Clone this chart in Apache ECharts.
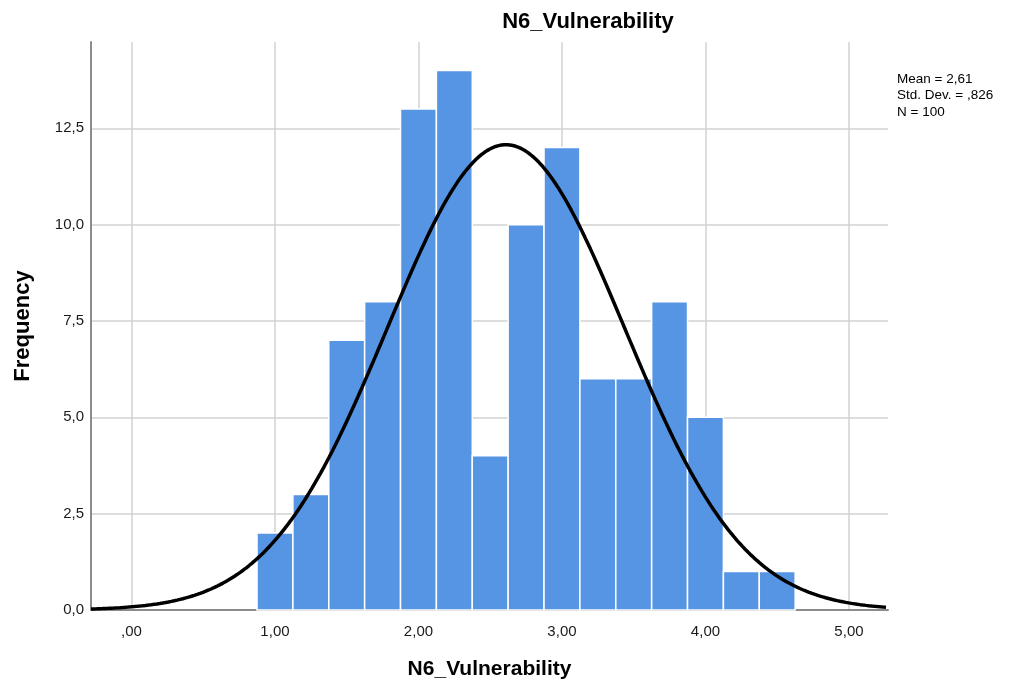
<!DOCTYPE html>
<html>
<head>
<meta charset="utf-8">
<script src="https://cdn.jsdelivr.net/npm/echarts@6/dist/echarts.min.js"></script>
<style>html,body{margin:0;padding:0;background:#fff}#c{width:1013px;height:686px}</style>
</head>
<body>
<div id="c"></div>
<script>
// Histogram bins (lower edge) and frequencies
const binStarts = [0.875, 1.125, 1.375, 1.625, 1.875, 2.125, 2.375, 2.625, 2.875, 3.125, 3.375, 3.625, 3.875, 4.125, 4.375];
const binWidth = 0.25;
const frequencies = [2, 3, 7, 8, 13, 14, 4, 10, 12, 6, 6, 8, 5, 1, 1];
// Displayed statistics (the fitted normal curve is defined by these)
const statMean = 2.61;
const statSD = 0.826;
const statN = 100;
const xTicks = [0, 1, 2, 3, 4, 5];
const yTicks = [0, 2.5, 5, 7.5, 10, 12.5];
const xMin = -0.282, xMax = 5.272, yMax = 14.74;

const barData = binStarts.map((s, i) => [s, s + binWidth, frequencies[i]]);
const curve = [];
for (let x = xMin; x <= xMax + 1e-9; x += 0.02) {
  const z = (x - statMean) / statSD;
  curve.push([x, statN * binWidth * Math.exp(-0.5 * z * z) / (statSD * Math.sqrt(2 * Math.PI))]);
}

const fmtX = v => { const s = Number(v).toFixed(2).replace('.', ','); return s.startsWith('0,') ? s.slice(1) : s; };
const fmtY = v => Number(v).toFixed(1).replace('.', ',');
const isTick = (arr, v) => arr.some(t => Math.abs(t - v) < 1e-6);

const chart = echarts.init(document.getElementById('c'), null, {renderer: 'canvas'});
const FONT = 'Liberation Sans, Arial, sans-serif';
chart.setOption({
  animation: false,
  textStyle: {fontFamily: FONT},
  title: [
    {text: 'N6_Vulnerability', left: 588, top: 11, textAlign: 'center', padding: 0,
     textStyle: {fontSize: 22, fontWeight: 'bold', color: '#000', fontFamily: FONT}},
    {text: 'Mean = 2,61\nStd. Dev. = ,826\nN = 100', left: 897, top: 71, padding: 0,
     textStyle: {fontSize: 13.5, fontWeight: 'normal', color: '#000', lineHeight: 16.5, fontFamily: FONT}}
  ],
  grid: {left: 91, right: 125, top: 42, bottom: 76, outerBoundsMode: 'none', containLabel: false},
  xAxis: {
    type: 'value', min: xMin, max: xMax,
    name: 'N6_Vulnerability', nameLocation: 'middle', nameGap: 49,
    nameTextStyle: {fontSize: 21, fontWeight: 'bold', color: '#000', fontFamily: FONT},
    axisLine: {show: true, onZero: false, lineStyle: {color: '#8c8c8c', width: 2}},
    axisTick: {show: false},
    splitLine: {show: false},
    axisLabel: {margin: 14, fontSize: 15, color: '#1a1a1a', fontFamily: FONT,
      customValues: xTicks,
      formatter: v => isTick(xTicks, v) ? fmtX(v) : ''}
  },
  yAxis: {
    type: 'value', min: 0, max: yMax, interval: 2.5,
    name: 'Frequency', nameLocation: 'middle', nameGap: 57, nameRotate: 90,
    nameTextStyle: {fontSize: 22, fontWeight: 'bold', color: '#000', fontFamily: FONT},
    axisLine: {show: true, onZero: false, lineStyle: {color: '#8c8c8c', width: 2}},
    axisTick: {show: false},
    splitLine: {show: false},
    axisLabel: {margin: 7, fontSize: 15, color: '#1a1a1a', fontFamily: FONT,
      formatter: v => isTick(yTicks, v) ? fmtY(v) : ''}
  },
  series: [
    {
      type: 'line', data: [], z: 0, silent: true,
      markLine: {
        z: 0, silent: true, symbol: 'none', label: {show: false},
        lineStyle: {color: '#d2d2d2', width: 1.5, type: 'solid'},
        animation: false,
        data: xTicks.map(t => ({xAxis: t})).concat(yTicks.filter(t => t > 0).map(t => ({yAxis: t})))
      }
    },
    {
      type: 'custom', z: 2,
      data: barData,
      encode: {x: [0, 1], y: 2},
      renderItem: (params, api) => {
        const p0 = api.coord([api.value(0), 0]);
        const p1 = api.coord([api.value(1), api.value(2)]);
        return {
          type: 'rect',
          shape: {x: p0[0], y: p1[1], width: p1[0] - p0[0], height: p0[1] - p1[1]},
          style: {fill: '#5694e4', stroke: '#ffffff', lineWidth: 1.5}
        };
      }
    },
    {
      type: 'line', z: 3, data: curve, showSymbol: false, smooth: false,
      lineStyle: {color: '#000', width: 3.5}
    }
  ]
});
</script>
</body>
</html>
